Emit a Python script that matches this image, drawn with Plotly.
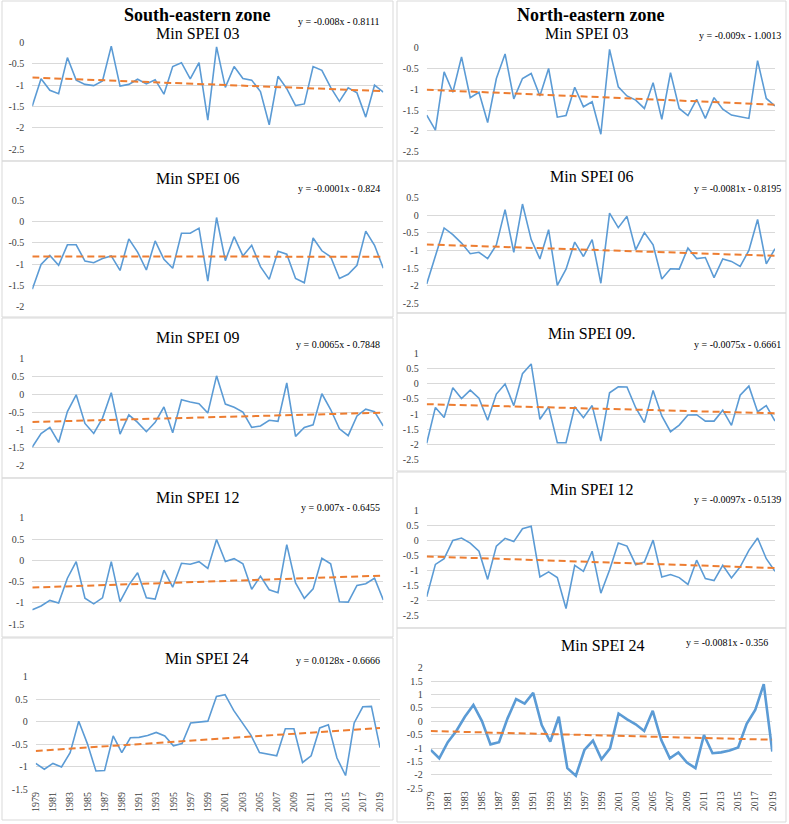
import plotly.graph_objects as go

years = list(range(1979, 2020))
year_ticks = list(range(1979, 2020, 2))

se_spei03 = [-1.49, -0.85, -1.12, -1.20, -0.35, -0.88, -0.98, -1.01, -0.90, -0.08,
             -1.02, -0.98, -0.86, -0.97, -0.87, -1.21, -0.56, -0.47, -0.85, -0.47,
             -1.82, -0.10, -1.05, -0.56, -0.84, -0.88, -1.15, -1.93, -0.79, -1.08,
             -1.48, -1.44, -0.56, -0.65, -1.05, -1.38, -1.06, -1.18, -1.75, -1.00, -1.16]
ne_spei03 = [-1.62, -1.98, -0.58, -1.07, -0.22, -1.20, -1.07, -1.80, -0.74, -0.15,
             -1.23, -0.74, -0.62, -1.16, -0.50, -1.67, -1.63, -0.95, -1.42, -1.30,
             -2.08, -0.04, -0.94, -1.16, -1.26, -1.46, -0.84, -1.72, -0.60, -1.46,
             -1.63, -1.24, -1.70, -1.20, -1.48, -1.62, -1.66, -1.70, -0.31, -1.22, -1.40]
se_spei06 = [-1.59, -1.01, -0.80, -1.03, -0.55, -0.55, -0.93, -0.97, -0.87, -0.81,
             -1.15, -0.41, -0.72, -1.14, -0.46, -0.89, -1.10, -0.28, -0.28, -0.16,
             -1.40, 0.09, -0.92, -0.36, -0.81, -0.56, -1.06, -1.36, -0.70, -0.77,
             -1.34, -1.44, -0.39, -0.69, -0.83, -1.34, -1.24, -1.03, -0.23, -0.56, -1.10]
ne_spei06 = [-1.95, -1.17, -0.36, -0.55, -0.79, -1.09, -1.05, -1.23, -0.84, 0.16,
             -1.05, 0.32, -0.69, -1.24, -0.41, -1.99, -1.53, -0.76, -1.17, -0.69,
             -1.93, 0.06, -0.35, -0.03, -0.98, -0.49, -0.84, -1.81, -1.52, -1.53,
             -0.93, -1.23, -1.20, -1.77, -1.24, -1.31, -1.45, -1.00, -0.12, -1.38, -0.95]
se_spei09 = [-1.48, -1.10, -0.93, -1.35, -0.49, -0.02, -0.82, -1.10, -0.67, 0.04,
             -1.12, -0.58, -0.79, -1.05, -0.79, -0.36, -1.08, -0.16, -0.22, -0.27,
             -0.53, 0.51, -0.28, -0.37, -0.50, -0.93, -0.89, -0.73, -0.76, 0.31,
             -1.18, -0.93, -0.86, 0.01, -0.43, -0.97, -1.16, -0.61, -0.42, -0.49, -0.89]
ne_spei09 = [-1.96, -0.78, -1.11, -0.13, -0.49, -0.21, -0.48, -1.20, -0.34, -0.01,
             -0.72, 0.33, 0.65, -1.17, -0.76, -1.94, -1.94, -0.76, -1.12, -0.72,
             -1.89, -0.30, -0.10, -0.11, -0.79, -1.28, -0.22, -1.06, -1.58, -1.36,
             -1.03, -1.02, -1.23, -1.23, -0.87, -1.37, -0.38, -0.08, -0.92, -0.72, -1.23]
se_spei12 = [-1.16, -1.07, -0.94, -1.00, -0.42, -0.03, -0.89, -1.02, -0.88, -0.03,
             -0.97, -0.58, -0.29, -0.88, -0.91, -0.23, -0.63, -0.07, -0.09, -0.03,
             -0.19, 0.49, -0.03, 0.04, -0.08, -0.68, -0.37, -0.69, -0.76, 0.37,
             -0.53, -0.89, -0.67, 0.05, -0.08, -0.97, -0.98, -0.59, -0.55, -0.42, -0.93]
ne_spei12 = [-1.87, -0.79, -0.60, 0.01, 0.09, -0.08, -0.35, -1.29, -0.18, 0.08,
             -0.03, 0.40, 0.48, -1.21, -1.04, -1.23, -2.26, -0.82, -1.02, -0.35,
             -1.75, -0.98, -0.08, -0.18, -0.80, -0.71, 0.02, -1.21, -1.13, -1.23,
             -1.46, -0.65, -1.26, -1.33, -0.82, -1.24, -0.87, -0.32, 0.09, -0.60, -1.02]
se_spei24 = [-0.93, -1.06, -0.93, -1.01, -0.69, 0.01, -0.49, -1.10, -1.09, -0.32,
             -0.69, -0.36, -0.35, -0.31, -0.24, -0.32, -0.54, -0.49, -0.03, -0.01,
             0.01, 0.56, 0.60, 0.25, -0.02, -0.30, -0.69, -0.72, -0.76, -0.16,
             -0.16, -0.91, -0.76, -0.14, -0.07, -0.81, -1.20, -0.03, 0.33, 0.34, -0.58]
ne_spei24 = [-1.07, -1.38, -0.78, -0.36, 0.17, 0.61, 0.01, -0.86, -0.78, 0.11,
             0.83, 0.66, 1.06, -0.14, -0.76, 0.17, -1.75, -2.03, -1.07, -0.72,
             -1.42, -1.01, 0.29, 0.07, -0.11, -0.36, 0.39, -0.70, -1.38, -1.16,
             -1.54, -1.75, -0.51, -1.19, -1.16, -1.09, -0.98, -0.09, 0.42, 1.39, -1.13]

panel_titles = ["Min SPEI 03", "Min SPEI 03", "Min SPEI 06", "Min SPEI 06",
                "Min SPEI 09", "Min SPEI 09.", "Min SPEI 12", "Min SPEI 12",
                "Min SPEI 24", "Min SPEI 24"]
trend_slopes = [-0.008, -0.009, -0.0001, -0.0081, 0.0065, -0.0075, 0.007, -0.0097, 0.0128, -0.0081]
trend_intercepts = [-0.8111, -1.0013, -0.824, -0.8195, -0.7848, -0.6661, -0.6455, -0.5139, -0.6666, -0.356]
equation_labels = ["y = -0.008x - 0.8111", "y = -0.009x - 1.0013", "y = -0.0001x - 0.824",
                   "y = -0.0081x - 0.8195", "y = 0.0065x - 0.7848", "y = -0.0075x - 0.6661",
                   "y = 0.007x - 0.6455", "y = -0.0097x - 0.5139", "y = 0.0128x - 0.6666",
                   "y = -0.0081x - 0.356"]
y_ranges = [(-2.5, 0), (-2.5, 0), (-2, 0.5), (-2.5, 0.5), (-2, 1),
            (-2.5, 1), (-1.5, 1), (-2.5, 1), (-1.5, 1), (-2.5, 2)]
series = [se_spei03, ne_spei03, se_spei06, ne_spei06, se_spei09,
          ne_spei09, se_spei12, ne_spei12, se_spei24, ne_spei24]
zone_titles = ["South-eastern zone", "North-eastern zone"]

W, H = 789, 824
# plot areas in pixels: x0, x1, ytop, ybottom
plot_px = [
    (32.3, 383.3, 42.7, 149.0), (426.7, 775.0, 47.7, 151.7),
    (32.3, 383.3, 200.0, 306.7), (426.7, 775.0, 197.7, 303.3),
    (32.3, 383.3, 358.3, 465.7), (426.7, 775.0, 353.3, 459.7),
    (32.3, 383.3, 517.7, 624.3), (426.7, 775.0, 510.7, 615.7),
    (35.7, 380.0, 676.7, 789.0), (430.7, 772.3, 667.7, 788.3),
]
box_px = [
    (2, 393, 1, 161), (397, 786, 1, 161),
    (2, 393, 161, 317), (397, 786, 161, 313),
    (2, 393, 318, 478), (397, 786, 313, 471),
    (2, 393, 478, 637), (397, 786, 472, 628),
    (2, 393, 638, 820), (397, 786, 628, 822),
]
subtitle_px = [(198, 33), (587, 33), (198, 178), (592, 177), (198, 338),
               (592, 333), (198, 497), (592, 489), (207, 658), (603, 645)]
eq_px = [(382, 22), (783, 35), (382, 188), (783, 188), (382, 344),
         (783, 344), (382, 507), (783, 499), (382, 660), (770, 642)]

SERIF = "Liberation Serif, Times New Roman, serif"
BLUE = "#5B9BD5"
ORANGE = "#ED7D31"
GRID = "#D9D9D9"

fig = go.Figure()
layout = dict(
    template="none",
    width=W, height=H, margin=dict(l=0, r=0, t=0, b=0, pad=0), autosize=False,
    paper_bgcolor="white", plot_bgcolor="white", showlegend=False,
    font=dict(family=SERIF, color="#595959", size=10),
)
shapes = []
annotations = []

def fx(px):
    return px / W

def fy(py):
    return 1 - py / H

for k in range(10):
    n = "" if k == 0 else str(k + 1)
    x0, x1, yt, yb = plot_px[k]
    ylo, yhi = y_ranges[k]
    vals = []
    v = ylo
    while v <= yhi + 1e-9:
        vals.append(round(v, 2))
        v += 0.5
    bottom = k >= 8
    layout["xaxis" + n] = dict(
        domain=[fx(x0), fx(x1)], range=[1979, 2019], anchor="y" + n,
        showgrid=False, zeroline=False, showline=False, automargin=False,
        showticklabels=bottom, tickvals=year_ticks if bottom else None,
        ticktext=[str(y) for y in year_ticks] if bottom else None,
        tickangle=-90, tickfont=dict(family=SERIF, size=10, color="#404040"),
        ticks="", fixedrange=True,
    )
    layout["yaxis" + n] = dict(
        domain=[fy(yb), fy(yt)], range=[ylo, yhi], anchor="x" + n,
        tickvals=vals, ticktext=[f"{t:g}" for t in vals], automargin=False,
        showgrid=True, gridcolor=GRID, gridwidth=1, zeroline=False,
        showline=False, ticks="", ticklabelstandoff=7,
        tickfont=dict(family=SERIF, size=10, color="#404040"), fixedrange=True,
    )
    fig.add_trace(go.Scatter(
        x=years, y=series[k], mode="lines", xaxis="x" + n, yaxis="y" + n,
        line=dict(color=BLUE, width=2.6 if k == 9 else 1.6),
    ))
    m, b = trend_slopes[k], trend_intercepts[k]
    fig.add_trace(go.Scatter(
        x=[years[0], years[-1]], y=[m * 1 + b, m * len(years) + b],
        mode="lines", xaxis="x" + n, yaxis="y" + n,
        line=dict(color=ORANGE, width=2, dash="7px,4px"),
    ))
    bx0, bx1, by0, by1 = box_px[k]
    shapes.append(dict(type="rect", xref="paper", yref="paper",
                       x0=fx(bx0), x1=fx(bx1), y0=fy(by1), y1=fy(by0),
                       line=dict(color=GRID, width=1), layer="below"))
    sx, sy = subtitle_px[k]
    annotations.append(dict(text=panel_titles[k], xref="paper", yref="paper",
                            x=fx(sx), y=fy(sy), xanchor="center", yanchor="middle",
                            showarrow=False, font=dict(family=SERIF, size=16, color="black")))
    ex, ey = eq_px[k]
    annotations.append(dict(text=equation_labels[k], xref="paper", yref="paper",
                            x=fx(ex), y=fy(ey), xanchor="right", yanchor="middle",
                            showarrow=False, font=dict(family=SERIF, size=10, color="black")))

annotations.append(dict(text="<b>" + zone_titles[0] + "</b>", xref="paper", yref="paper",
                        x=fx(198), y=fy(15), xanchor="center", yanchor="middle",
                        showarrow=False, font=dict(family=SERIF, size=18, color="black")))
annotations.append(dict(text="<b>" + zone_titles[1] + "</b>", xref="paper", yref="paper",
                        x=fx(590), y=fy(15), xanchor="center", yanchor="middle",
                        showarrow=False, font=dict(family=SERIF, size=18, color="black")))

layout["shapes"] = shapes
layout["annotations"] = annotations
fig.update_layout(**layout)
fig.write_html("out.html", config={"displayModeBar": False},
               post_script="document.body.style.margin='0';document.body.style.padding='0';")
